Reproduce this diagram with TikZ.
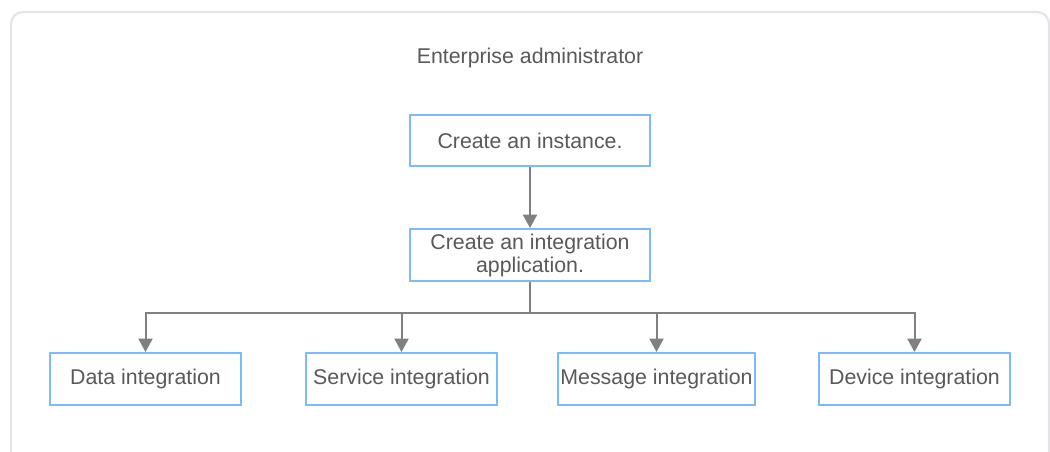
\documentclass[tikz,border=0pt]{standalone}
\usepackage{fontspec}
\setmainfont{Liberation Sans}
\usetikzlibrary{arrows.meta}
\definecolor{frameC}{RGB}{226,228,231}
\definecolor{boxC}{RGB}{125,185,255}
\definecolor{lineC}{RGB}{128,128,128}
\definecolor{txtC}{RGB}{89,89,89}
\begin{document}
\begin{tikzpicture}[x=0.75pt,y=-0.75pt,
  stepbox/.style={draw=boxC,line width=1.5pt,fill=white,inner sep=0pt,
    minimum height=39pt,text=txtC,align=center,
    font=\fontsize{16}{17.25}\selectfont},
  conn/.style={draw=lineC,line width=1.5pt},
  arr/.style={conn,-{Triangle[width=10.5pt,length=10pt]}}]
\useasboundingbox (0,0) rectangle (1050,451);
\begin{scope}
\clip (0,0) rectangle (1050,451);
\draw[frameC,line width=1.6pt,rounded corners=9pt] (11,12) rectangle (1049,480);
\end{scope}
\node[text=txtC,font=\fontsize{16}{18}\selectfont] (title) at (530,58) {Enterprise administrator};
\node[stepbox,minimum width=180pt,minimum height=38.25pt] (b1) at (530,140.5) {Create an instance.};
\node[stepbox,minimum width=180pt] (b2) at (530,255) {Create an integration\\application.};
\coordinate (j) at (530,313);
\node[stepbox,minimum width=143.25pt] (d1) at (145.5,379) {Data integration};
\node[stepbox,minimum width=143.25pt] (d2) at (401.5,379) {Service integration};
\node[stepbox,minimum width=147.75pt] (d3) at (656.5,379) {Message integration};
\node[stepbox,minimum width=143.25pt] (d4) at (914.5,379) {Device integration};
\draw[arr] (b1.south) -- (b2.north);
\draw[conn] (b2.south) -- (j);
\foreach \n in {d1,d2,d3,d4}{\draw[arr] (j) -| (\n.north);}
\end{tikzpicture}
\end{document}
